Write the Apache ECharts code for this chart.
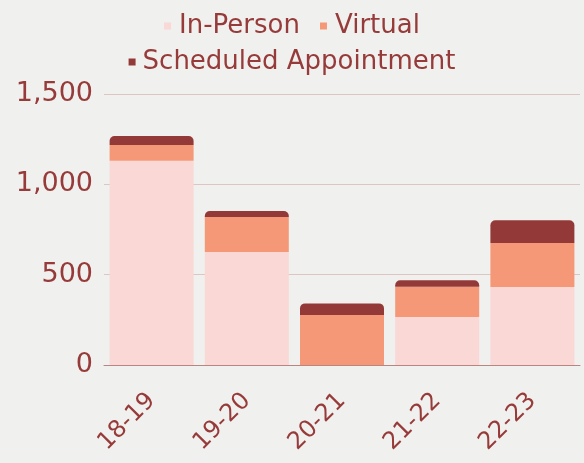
<!DOCTYPE html>
<html>
<head>
<meta charset="utf-8">
<script src="https://cdn.jsdelivr.net/npm/echarts@6/dist/echarts.min.js"></script>
<style>
  html, body { margin: 0; padding: 0; background: #f0f0ee; }
  #main { width: 584px; height: 463px; }
</style>
</head>
<body>
<div id="main"></div>
<script>
var chart = echarts.init(document.getElementById('main'));

// data
var years = ['18-19', '19-20', '20-21', '21-22', '22-23'];
var inPerson = [1130, 625, 0, 266, 432];
var virtual = [88, 194, 277, 167, 243];
var scheduled = [50, 33, 64, 36, 126];
var yTicks = { min: 0, max: 1500, step: 500 };

var textColor = '#963b3a';
var font = 'DejaVu Sans';

var option = {
    backgroundColor: '#f0f0ee',
    textStyle: { fontFamily: font },
    legend: [
        {
            data: ['In-Person', 'Virtual'],
            top: 8,
            left: 'center',
            itemWidth: 7,
            itemHeight: 7,
            itemGap: 20,
            icon: 'rect',
            textStyle: { color: textColor, fontSize: 26, fontFamily: font, padding: [0, 0, 0, 3] }
        },
        {
            data: ['Scheduled Appointment'],
            top: 44,
            left: 'center',
            itemWidth: 7,
            itemHeight: 7,
            icon: 'rect',
            textStyle: { color: textColor, fontSize: 26, fontFamily: font, padding: [0, 0, 0, 2] }
        }
    ],
    grid: {
        left: 104,
        right: 4,
        top: 94,
        bottom: 98
    },
    xAxis: {
        type: 'category',
        data: years,
        axisTick: { show: false },
        axisLine: { lineStyle: { color: '#b98482', width: 1 } },
        axisLabel: {
            rotate: 45,
            margin: 32,
            color: textColor,
            fontSize: 24,
            fontFamily: font
        }
    },
    yAxis: {
        type: 'value',
        min: yTicks.min,
        max: yTicks.max,
        interval: yTicks.step,
        axisLine: { show: false },
        axisTick: { show: false },
        splitLine: { lineStyle: { color: '#dcc5c3', width: 1 } },
        axisLabel: {
            margin: 11,
            color: textColor,
            fontSize: 27,
            fontFamily: font
        }
    },
    series: [
        {
            name: 'In-Person',
            type: 'bar',
            stack: 'total',
            barWidth: 84,
            itemStyle: { color: '#f9d8d5' },
            data: inPerson
        },
        {
            name: 'Virtual',
            type: 'bar',
            stack: 'total',
            itemStyle: { color: '#f59877' },
            data: virtual
        },
        {
            name: 'Scheduled Appointment',
            type: 'bar',
            stack: 'total',
            itemStyle: { color: '#933a38', borderRadius: [5, 5, 0, 0] },
            data: scheduled
        }
    ]
};
chart.setOption(option);
</script>
</body>
</html>
